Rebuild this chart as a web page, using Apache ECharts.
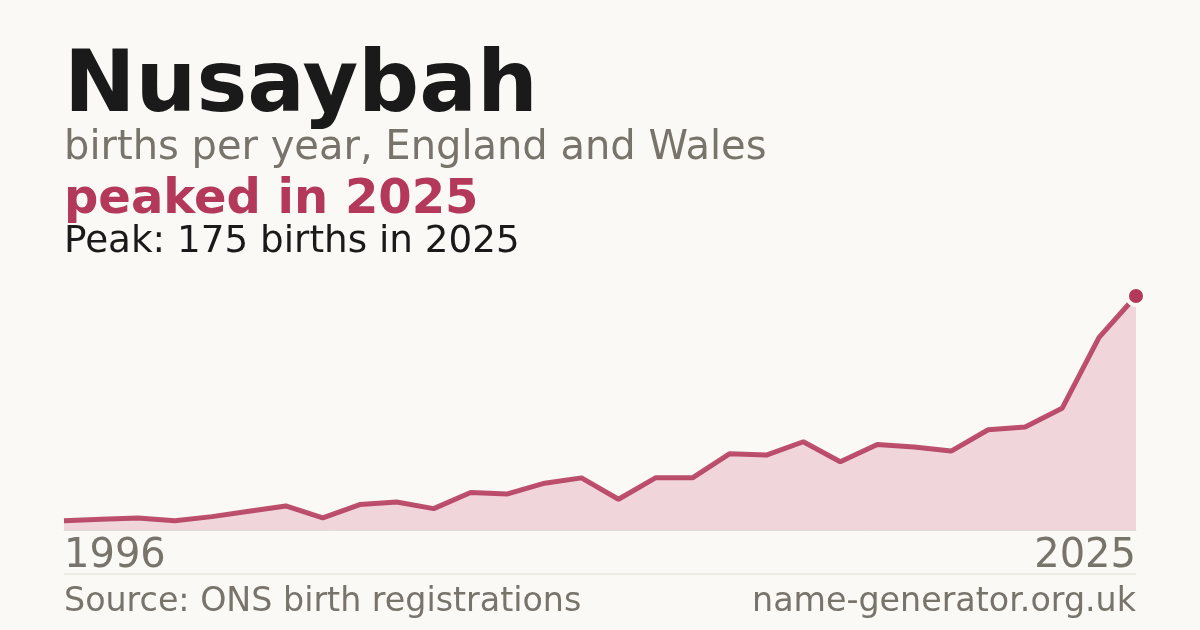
<!DOCTYPE html>
<html lang="en">
<head>
    <meta charset="UTF-8">
    <script src="https://cdn.jsdelivr.net/npm/echarts@6/dist/echarts.min.js"></script>
    <title>Nusaybah</title>
    <style>
        html,body{
            height:100%;
            width:100%;
            margin:0;
            padding:0;
            background:#faf9f5;
        }
    </style>
</head>
<body>
    <div id="main" style="width:1200px;height:630px"></div>
    <script>
        // births per year
        var years = [];
        for (var y = 1996; y <= 2025; y++) years.push(String(y));
        var births = [7, 8, 9, 7, 10, 14, 18, 9, 19, 21,
                      16, 28, 27, 35, 39, 23, 39, 39, 57, 56,
                      66, 51, 64, 62, 59, 75, 77, 91, 144, 175];

        var red = '#b3385a';
        var grey = '#78736b';
        var font = 'DejaVu Sans';

        var myChart = echarts.init(document.getElementById('main'));

        var seriesData = births.map(function (v, i) {
            if (i === births.length - 1) {
                return {
                    value: v,
                    symbol: 'circle',
                    symbolSize: 18,
                    itemStyle: { color: red, borderColor: '#faf9f5', borderWidth: 4 }
                };
            }
            return { value: v, symbol: 'none' };
        });

        var option = {
            backgroundColor: '#faf9f5',
            animation: false,
            grid: { left: 64, right: 64, top: 296, bottom: 100 },
            xAxis: {
                type: 'category',
                data: years,
                boundaryGap: false,
                axisLine: { show: true, lineStyle: { color: '#e2ded6', width: 1 } },
                axisTick: { show: false },
                axisLabel: {
                    interval: 28,
                    margin: 7,
                    color: grey,
                    fontFamily: font,
                    fontSize: 40,
                    lineHeight: 40,
                    alignMinLabel: 'left',
                    alignMaxLabel: 'right'
                },
                splitLine: { show: false }
            },
            yAxis: {
                type: 'value',
                min: 0,
                max: 175,
                show: false
            },
            series: [{
                type: 'line',
                data: seriesData,
                clip: false,
                showSymbol: true,
                lineStyle: { color: red, width: 5, opacity: 0.88 },
                areaStyle: { color: '#f0d5db', opacity: 1 },
                itemStyle: { color: red }
            }],
            graphic: [
                { type: 'text', left: 64, top: 46, style: { text: 'Nusaybah', fill: '#1a1a1a', font: 'bold 85.5px "DejaVu Sans"' } },
                { type: 'text', left: 64, top: 129, style: { text: 'births per year, England and Wales', fill: grey, font: '40px "DejaVu Sans"' } },
                { type: 'text', left: 64, top: 177, style: { text: 'peaked in 2025', fill: red, font: 'bold 48px "DejaVu Sans"' } },
                { type: 'text', left: 64, top: 224, style: { text: 'Peak: 175 births in 2025', fill: '#1a1a1a', font: '37.3px "DejaVu Sans"' } },
                { type: 'line', shape: { x1: 64, y1: 574, x2: 1136, y2: 574 }, style: { stroke: '#e2ded6', lineWidth: 1 } },
                { type: 'text', left: 64, top: 586, style: { text: 'Source: ONS birth registrations', fill: grey, font: '33.3px "DejaVu Sans"' } },
                { type: 'text', right: 64, top: 586, style: { text: 'name-generator.org.uk', fill: grey, font: '33.3px "DejaVu Sans"' } }
            ]
        };

        myChart.setOption(option);
    </script>
</body>
</html>
